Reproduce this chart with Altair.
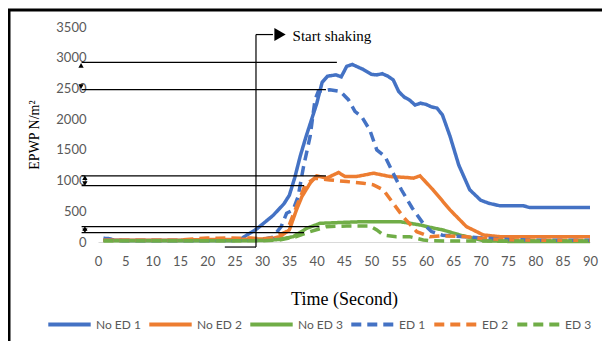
import altair as alt
import pandas as pd

# ---- data ----
series_names = ["No ED 1", "No ED 2", "No ED 3", "ED 1", "ED 2", "ED 3"]
series_colors = ["#4472C4", "#ED7D31", "#70AD47", "#4472C4", "#ED7D31", "#70AD47"]

noed1_t = [1, 2, 3, 5, 10, 15, 20, 25, 26, 27, 29, 32, 34, 35, 36, 37, 38, 40, 41, 42, 43.5, 44.5, 45.5, 46.5,
           48.5, 50, 51, 52, 53, 54, 55, 56, 57, 58, 59, 60, 61, 62, 63, 64.4, 66, 68, 70, 71.5, 73.5, 76, 77.8,
           79, 85, 90]
noed1_v = [60, 55, 30, 25, 25, 25, 25, 25, 40, 100, 210, 430, 620, 760, 1050, 1400, 1700, 2250, 2600, 2700, 2720,
           2690, 2860, 2890, 2810, 2730, 2720, 2740, 2700, 2640, 2450, 2360, 2310, 2230, 2260, 2240, 2200, 2180,
           2070, 1720, 1250, 850, 680, 630, 590, 590, 590, 560, 560, 560]

noed2_t = [1, 5, 10, 15, 20, 25, 30, 32, 33.3, 35, 36.3, 37.3, 38.8, 40, 41.8, 44, 45.2, 47.3, 50.4, 53.4, 56.5,
           57.7, 58.9, 61.3, 64.4, 67.4, 70.5, 73.5, 80, 90]
noed2_v = [30, 30, 30, 30, 40, 40, 50, 60, 87, 196, 522, 739, 957, 1077, 1039, 1131, 1066, 1066, 1120, 1066, 1050,
           1039, 1077, 848, 522, 250, 114, 87, 87, 87]

noed3_t = [1, 5, 10, 15, 20, 25, 30, 33, 35.7, 38.2, 40.6, 43.6, 48.5, 53.4, 55.2, 57.1, 58.9, 61.3, 63.1, 66.2,
           70.5, 75, 90]
noed3_v = [20, 20, 20, 20, 20, 20, 25, 40, 87, 223, 304, 315, 331, 331, 331, 304, 277, 228, 196, 114, 20, 10, 10]

ed1_t = [1, 5, 10, 15, 20, 25, 30, 32, 33.5, 34.5, 35.7, 36.6, 37.6, 38.8, 39.7, 40.3, 42.4, 44.3, 45.8, 47, 48.2,
         49.7, 51, 52.5, 54, 55.5, 57.5, 59.5, 61, 63, 67, 70.5, 75, 80, 90]
ed1_v = [30, 25, 25, 25, 25, 30, 40, 80, 250, 468, 522, 739, 1229, 1718, 2317, 2452, 2480, 2452, 2317, 2126, 2044,
         1827, 1500, 1392, 1120, 850, 550, 300, 170, 110, 87, 65, 40, 30, 30]

ed2_t = [1, 5, 10, 15, 18, 20, 22, 24, 26, 28, 30, 32, 34.5, 36.3, 37.3, 37.9, 39.7, 42.4, 45.5, 48.5, 50.4, 52.2,
         54, 55.8, 58.3, 60.7, 63, 67, 70, 75, 80, 90]
ed2_v = [30, 30, 30, 30, 55, 65, 60, 65, 60, 65, 50, 70, 168, 576, 794, 930, 1039, 1011, 984, 957, 930, 848, 630,
         413, 168, 87, 100, 90, 60, 35, 30, 30]

ed3_t = [1, 5, 10, 15, 20, 25, 30, 33, 36.3, 38.8, 41.8, 45.5, 49.7, 51, 52.2, 54.6, 57, 58.3, 59.5, 60.7, 65, 70,
         90]
ed3_v = [20, 20, 20, 20, 20, 20, 20, 30, 87, 168, 250, 261, 261, 196, 114, 87, 87, 60, 33, 20, 15, 15, 15]

x_ticks = list(range(0, 91, 5))
y_ticks = list(range(0, 3501, 500))

# annotation guides (data units)
guide_x1 = [-3.0, -3.0, -3.0, -3.0, -3.0, -3.0, 28.9, 23.2, 28.9]
guide_x2 = [43.7, 41.7, 41.7, 37.7, 40.5, 37.7, 28.9, 28.9, 32.0]
guide_y1 = [2925, 2480, 1077, 918, 250, 152, 3377, -82, 3377]
guide_y2 = [2925, 2480, 1077, 918, 250, 152, -82, -82, 3377]
arrow_x = [-3.1, -3.1, -2.4, -2.4, -2.4, -2.4]
arrow_y = [2875, 2530, 1045, 950, 220, 182]
arrow_shape = ["triangle-up", "triangle-down", "triangle-up", "triangle-down", "triangle-up", "triangle-down"]
shake_arrow_x = [33.3]
shake_arrow_y = [3377]
shake_label = ["Start shaking"]
shake_label_x = [35.6]
shake_label_y = [3350]

# ---- build tables ----
rows = []
for name, ts, vs in zip(series_names,
                        [noed1_t, noed2_t, noed3_t, ed1_t, ed2_t, ed3_t],
                        [noed1_v, noed2_v, noed3_v, ed1_v, ed2_v, ed3_v]):
    for t, v in zip(ts, vs):
        rows.append({"series": name, "t": t, "v": v})
df = pd.DataFrame(rows)

guides = pd.DataFrame({"x1": guide_x1, "x2": guide_x2, "y1": guide_y1, "y2": guide_y2})
arrows = pd.DataFrame({"x": arrow_x, "y": arrow_y, "shape": arrow_shape})
shake_arrow = pd.DataFrame({"x": shake_arrow_x, "y": shake_arrow_y})
shake_text = pd.DataFrame({"x": shake_label_x, "y": shake_label_y, "label": shake_label})

xscale = alt.Scale(domain=[0, 90], nice=False, zero=False)
yscale = alt.Scale(domain=[0, 3500], nice=False)

xax = alt.Axis(values=x_ticks, title="Time (Second)", grid=False, ticks=False, domain=True,
               domainColor="#d9d9d9", domainWidth=1.2, labelColor="#595959", labelFont="Lato",
               labelFontSize=13, labelPadding=13, labelOverlap=False, labelFlush=False, format="d",
               titleFont="Liberation Serif", titleFontSize=18,
               titleFontWeight="normal", titleColor="black", titlePadding=22)
yax = alt.Axis(values=y_ticks, title="EPWP N/m²", grid=False, ticks=False, domain=False,
               labelColor="#595959", labelFont="Lato", labelFontSize=13, labelPadding=12,
               labelOverlap=False, labelFlush=False, format="d",
               titleFont="Liberation Serif", titleFontSize=14, titleFontWeight="normal",
               titleColor="black", titlePadding=14)

legend_cfg = alt.Legend(
    title=None, orient="none", legendX=-52, legendY=274, direction="horizontal", columns=6,
    gridAlign="none",
    symbolType="stroke", symbolSize=1800, symbolStrokeWidth=4, labelFont="Lato", labelFontSize=12,
    labelColor="#595959", labelOffset=3, columnPadding=0, symbolOpacity=1,
)

lines = alt.Chart(df).mark_line(strokeWidth=3.5).encode(
    x=alt.X("t:Q", scale=xscale, axis=xax),
    y=alt.Y("v:Q", scale=yscale, axis=yax),
    color=alt.Color("series:N", scale=alt.Scale(domain=series_names, range=series_colors), legend=legend_cfg),
    strokeDash=alt.StrokeDash("series:N",
                              scale=alt.Scale(domain=series_names,
                                              range=[[1, 0], [1, 0], [1, 0], [10, 6], [10, 6], [10, 6]]),
                              legend=legend_cfg),
    detail="series:N",
)

guide_rules = alt.Chart(guides).mark_rule(color="black", strokeWidth=1.2).encode(
    x=alt.X("x1:Q", scale=xscale, axis=xax), x2="x2:Q",
    y=alt.Y("y1:Q", scale=yscale, axis=yax), y2="y2:Q",
)

arrow_pts = alt.Chart(arrows).mark_point(filled=True, color="black", size=28, opacity=1).encode(
    x=alt.X("x:Q", scale=xscale, axis=xax), y=alt.Y("y:Q", scale=yscale, axis=yax),
    shape=alt.Shape("shape:N", scale=None, legend=None),
)

shake_head = alt.Chart(shake_arrow).mark_point(filled=True, color="black", size=170, shape="triangle-right",
                                               opacity=1).encode(
    x=alt.X("x:Q", scale=xscale, axis=xax), y=alt.Y("y:Q", scale=yscale, axis=yax),
)

shake_txt = alt.Chart(shake_text).mark_text(align="left", baseline="middle", font="Liberation Serif",
                                            fontSize=15, color="black").encode(
    x=alt.X("x:Q", scale=xscale, axis=xax), y=alt.Y("y:Q", scale=yscale, axis=yax), text="label:N",
)

frame = alt.Chart(pd.DataFrame({"a": [0]})).mark_rect(fill=None, stroke="black", strokeWidth=3).encode(
    x=alt.value(-89), x2=alt.value(620), y=alt.value(-17), y2=alt.value(400),
)

chart = alt.layer(lines, guide_rules, arrow_pts, shake_head, shake_txt, frame).properties(
    width=492, height=215,
    padding={"left": 90, "top": 19, "right": 12, "bottom": 99},
    autosize=alt.AutoSizeParams(type="none"),
).configure_view(stroke=None)

chart.save("out.html", embed_options={"renderer": "svg", "actions": False})
